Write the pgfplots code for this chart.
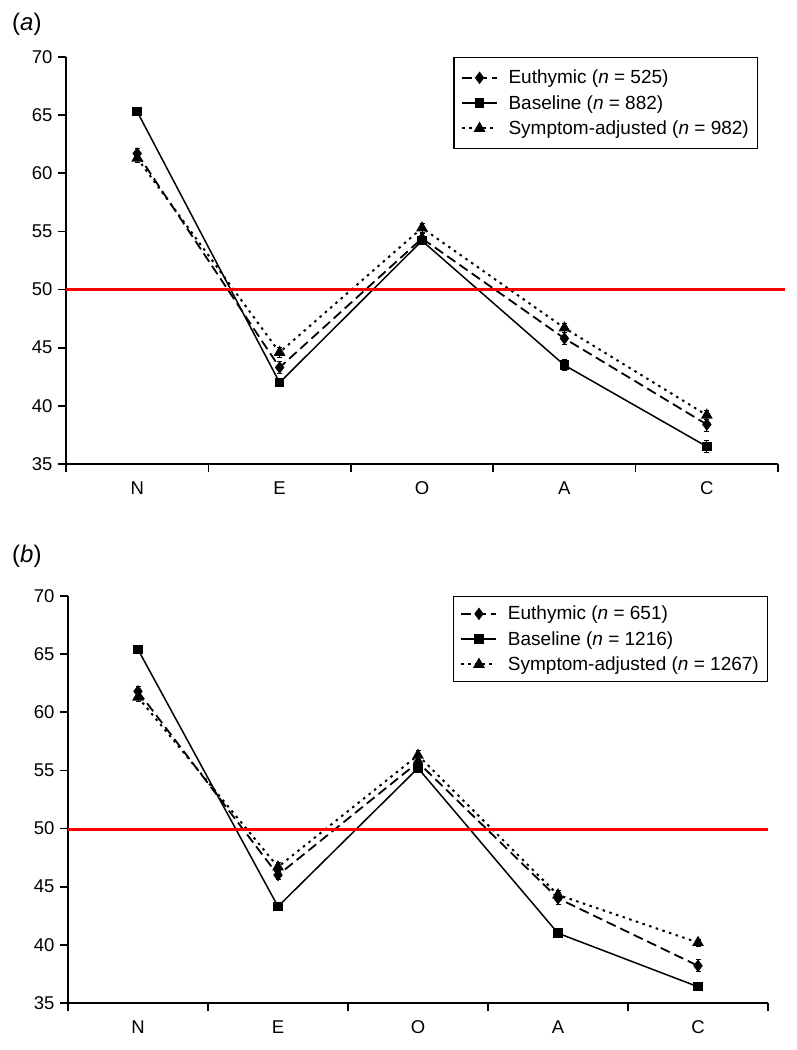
\documentclass[border=0pt]{standalone}
\usepackage{fontspec}
\setmainfont{Liberation Sans}
\usepackage{pgfplots}
\pgfplotsset{compat=1.18}
\newcommand{\fs}{\fontsize{19}{22}\selectfont}
\newcommand{\ft}{\fontsize{18.5}{22}\selectfont}
\pgfplotsset{
  panel/.style={
    scale only axis,
    anchor=south west,
    height=407pt,
    xmin=-0.5, xmax=4.5, ymin=35, ymax=70,
    axis x line*=bottom, axis y line*=left,
    axis line style={line width=1.7pt, black},
    xtick={0,1,2,3,4}, xticklabels={N,E,O,A,C},
    minor xtick={-0.5,0.5,1.5,2.5,3.5,4.5},
    ytick={35,40,45,50,55,60,65,70},
    tick align=outside,
    major tick length=8pt, minor tick length=8pt,
    major x tick style={draw=none},
    minor x tick style={line width=1.7pt, black},
    y tick style={line width=1.7pt, black},
    ticklabel style={font=\ft},
    /pgf/number format/assume math mode=true,
    yticklabel style={xshift=-2pt},
    xticklabel style={yshift=-6pt},
    clip=false,
    legend cell align=left,
    legend style={font=\fs, draw=black, line width=1.4pt, inner xsep=7pt, inner ysep=11pt,
      row sep=7pt, nodes={inner sep=1.5pt},
      /tikz/every odd column/.append style={column sep=9pt}},
    legend image code/.code={
      \draw[mark repeat=2,mark phase=2] plot coordinates {(0pt,0pt) (17.5pt,0pt) (35pt,0pt)};},
    error bars/y dir=both, error bars/y explicit,
    error bars/error mark options={rotate=90, mark size=2.5pt, line width=1pt, solid},
    error bars/error bar style={line width=1pt, solid},
  },
  eu/.style={black, line width=1.8pt, dash pattern=on 10pt off 5pt, mark=diamond*, mark size=4.8pt, mark options={solid}},
  ba/.style={black, line width=1.5pt, solid, mark=square*, mark size=4pt},
  sa/.style={black, line width=2pt, dash pattern=on 2.5pt off 4.5pt, mark=triangle*, mark size=4.8pt, mark options={solid}},
}
\begin{document}
\begin{tikzpicture}
\useasboundingbox (0,0) rectangle (796pt,-1050pt);
\node[anchor=west, inner sep=0pt, font=\fontsize{24}{27}\selectfont] at (12pt,-24pt) {(\textit{a})};
\node[anchor=west, inner sep=0pt, font=\fontsize{24}{27}\selectfont] at (12pt,-556pt) {(\textit{b})};
% Panel (a)
\begin{axis}[panel, at={(66pt,-464pt)}, width=712pt,
  legend style={at={(1,1)}, anchor=north east, xshift=-20pt}]
\addplot[eu] coordinates {(0,61.7) +- (0,0.4) (1,43.3) +- (0,0.5) (2,54.4) +- (0,0.4) (3,45.8) +- (0,0.5) (4,38.4) +- (0,0.6)};
\addlegendentry{Euthymic (\textit{n} = 525)}
\addplot[ba] coordinates {(0,65.3) +- (0,0.3) (1,42.0) +- (0,0.3) (2,54.2) +- (0,0.3) (3,43.5) +- (0,0.5) (4,36.5) +- (0,0.5)};
\addlegendentry{Baseline (\textit{n} = 882)}
\addplot[sa] coordinates {(0,61.3) +- (0,0.4) (1,44.6) +- (0,0.4) (2,55.3) +- (0,0.4) (3,46.7) +- (0,0.4) (4,39.2) +- (0,0.4)};
\addlegendentry{Symptom-adjusted (\textit{n} = 982)}
\addplot[red, line width=3.2pt, forget plot, no marks] coordinates {(-0.5,50) (4.55,50)};
\end{axis}
% Panel (b)
\begin{axis}[panel, at={(68pt,-1003pt)}, width=700pt,
  legend style={at={(1,1)}, anchor=north east, inner ysep=8pt}]
\addplot[eu] coordinates {(0,61.8) +- (0,0.4) (1,46.0) +- (0,0.4) (2,55.7) +- (0,0.4) (3,44.0) +- (0,0.5) (4,38.2) +- (0,0.5)};
\addlegendentry{Euthymic (\textit{n} = 651)}
\addplot[ba] coordinates {(0,65.4) +- (0,0.3) (1,43.3) +- (0,0.3) (2,55.2) +- (0,0.3) (3,41.0) +- (0,0.3) (4,36.4) +- (0,0.3)};
\addlegendentry{Baseline (\textit{n} = 1216)}
\addplot[sa] coordinates {(0,61.3) +- (0,0.4) (1,46.7) +- (0,0.4) (2,56.3) +- (0,0.4) (3,44.3) +- (0,0.4) (4,40.2) +- (0,0.3)};
\addlegendentry{Symptom-adjusted (\textit{n} = 1267)}
\addplot[red, line width=3.2pt, forget plot, no marks] coordinates {(-0.5,49.9) (4.5,49.9)};
\end{axis}
\end{tikzpicture}
\end{document}
